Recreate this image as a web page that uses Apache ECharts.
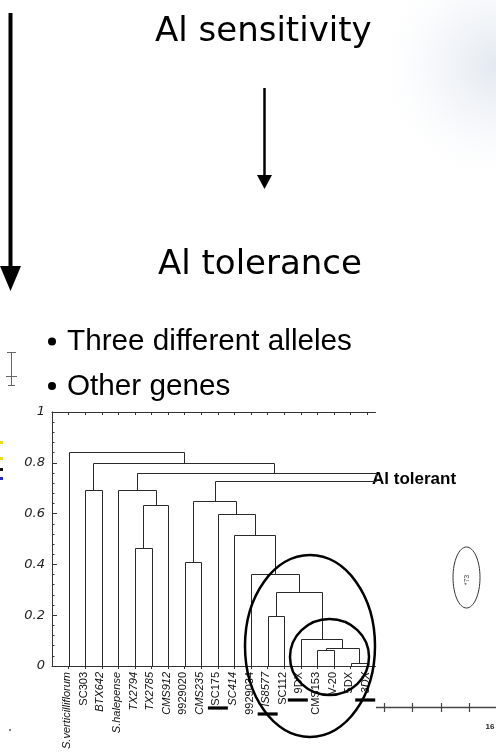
<!DOCTYPE html>
<html><head><meta charset="utf-8">
<script src="https://cdn.jsdelivr.net/npm/echarts@6/dist/echarts.min.js"></script>
<style>html,body{margin:0;padding:0;background:#fff}#c{width:496px;height:753px}</style>
</head><body><div id="c"></div>
<script>
// ---- data ----
const leafNames = ['S.verticilliflorum','SC303','BTX642','S.halepense','TX2794','TX2785','CMS912','9929020','CMS235','SC175','SC414','9929034','IS8577','SC112','9DX','CMS153','V-20','5DX','3DX'];
const italicLeaves = ['S.verticilliflorum','BTX642','S.halepense','TX2794','TX2785','CMS912','CMS235','SC414','IS8577','3DX'];
const markedLeaves = ['SC175','IS8577','9DX','3DX'];
// dendrogram U-links: x in leaf-index units, heights in linkage distance
const linkLeftX     = [1, 4, 4.5, 3, 7, 12, 15, 17, 15.5, 14, 12.5, 11, 10, 9, 7.5, 8.8, 4.125, 1.5, 0];
const linkRightX    = [2, 5, 6, 5.25, 8, 13, 16, 18, 17.5, 16.5, 15.25, 13.875, 12.44, 11.22, 10.11, 18.5, 18.5, 12.4, 6.95];
const linkHeight    = [0.693, 0.465, 0.634, 0.693, 0.41, 0.197, 0.063, 0.012, 0.071, 0.106, 0.29, 0.362, 0.516, 0.60, 0.65, 0.728, 0.76, 0.80, 0.843];
const linkLeftBase  = [0, 0, 0.465, 0, 0, 0, 0, 0, 0.063, 0, 0.197, 0, 0, 0, 0.41, 0.65, 0.693, 0.693, 0];
const linkRightBase = [0, 0, 0, 0.634, 0, 0, 0, 0, 0.012, 0.071, 0.106, 0.29, 0.362, 0.516, 0.60, 0.728, 0.728, 0.76, 0.80];
const yTicks = [0, 0.2, 0.4, 0.6, 0.8, 1];

// ---- styling ----
const LINE = '#2a2a2a';
const markStyle = {SC175:{dy:42,dx:0}, IS8577:{dy:48,dx:0}, '9DX':{dy:34,dx:-3}, '3DX':{dy:34,dx:-2}};
const leafIdx = leafNames.map((n,i)=>i);
const LABEL_FONT = 'Liberation Sans, Arial, sans-serif';

const chart = echarts.init(document.getElementById('c'), null, {renderer:'canvas'});
const crisp = v => Math.round(v) + 0.5;

chart.setOption({
  animation:false,
  backgroundColor:'#fff',
  grid:{left:52, top:412, width:323.5, height:254, containLabel:false},
  xAxis:[{
    type:'value', min:-1, max:18.5, position:'bottom',
    axisLine:{show:true, onZero:false, lineStyle:{color:'#333', width:1}},
    axisTick:{show:true, inside:false, length:3, customValues:leafIdx, lineStyle:{color:'#333'}},
    splitLine:{show:false},
    axisLabel:{
      show:true, rotate:90, margin:6, customValues:leafIdx,
      formatter: v => { const n = leafNames[Math.round(v)]; if (n===undefined) return ''; return (italicLeaves.includes(n)?'{it|':'{n|') + n + '}'; },
      rich:{
        it:{fontStyle:'italic', fontSize:11, fontFamily:LABEL_FONT, color:'#111', padding:[0,0,3,0]},
        n:{fontSize:11, fontFamily:LABEL_FONT, color:'#111', padding:[0,0,3,0]}
      }
    }
  },{
    type:'value', min:-1, max:18.5, position:'top',
    axisLine:{show:true, onZero:false, lineStyle:{color:'#333', width:1}},
    axisTick:{show:true, inside:true, length:3, customValues:leafIdx, lineStyle:{color:'#333'}},
    splitLine:{show:false}, axisLabel:{show:false}
  }],
  yAxis:{
    type:'value', min:0, max:1, interval:0.2,
    axisLine:{show:true, onZero:false, lineStyle:{color:'#333', width:1}},
    axisTick:{show:true, inside:true, length:5, lineStyle:{color:'#333'}},
    minorTick:{show:true, splitNumber:5, length:2.5, lineStyle:{color:'#333'}},
    splitLine:{show:false},
    axisLabel:{margin:7, fontSize:13, fontStyle:'italic', fontFamily:'DejaVu Sans, sans-serif', color:'#222',
      customValues: yTicks}
  },
  series:[{
    type:'custom', coordinateSystem:'cartesian2d', xAxisIndex:0, yAxisIndex:0, clip:false,
    data: linkHeight.map((h,i)=>[linkLeftX[i], linkRightX[i], h, linkLeftBase[i], linkRightBase[i]]),
    encode:{x:[0,1], y:[2,3,4]},
    renderItem:(params, api)=>{
      const xl=api.value(0), xr=api.value(1), h=api.value(2), bl=api.value(3), br=api.value(4);
      const pts = [[xl,bl],[xl,h],[xr,h],[xr,br]].map(p=>{const c=api.coord(p); return [crisp(c[0]), crisp(c[1])];});
      return {type:'polyline', shape:{points:pts}, style:{stroke:LINE, lineWidth:1, fill:null}};
    }
  },{
    type:'custom', coordinateSystem:'cartesian2d', xAxisIndex:0, yAxisIndex:0, clip:false, z:5,
    data: markedLeaves.map(n=>[leafNames.indexOf(n), 0]),
    renderItem:(params, api)=>{
      const n = markedLeaves[params.dataIndex]; const s = markStyle[n];
      const c = api.coord([api.value(0), api.value(1)]);
      const x = c[0] + s.dx, y = c[1] + s.dy;
      return {type:'line', shape:{x1:x-10, y1:y, x2:x+10, y2:y}, style:{stroke:'#000', lineWidth:3.2}};
    }
  }],
  graphic:[
    // faint slide background in the top-right corner
    {type:'rect', z:-10, shape:{x:330, y:0, width:166, height:300},
      style:{fill:new echarts.graphic.RadialGradient(1, 0.22, 0.75, [{offset:0, color:'rgba(208,218,230,0.6)'},{offset:0.5, color:'rgba(228,234,242,0.35)'},{offset:1, color:'rgba(255,255,255,0)'}])}},
    // slide titles
    {type:'text', x:155, y:32, style:{text:'Al sensitivity', font:'34px "DejaVu Sans", sans-serif', fill:'#000', verticalAlign:'middle', align:'left'}},
    {type:'text', x:158, y:265, style:{text:'Al tolerance', font:'34px "DejaVu Sans", sans-serif', fill:'#000', verticalAlign:'middle', align:'left'}},
    // arrows
    {type:'line', shape:{x1:10.5, y1:13, x2:10.5, y2:270}, style:{stroke:'#000', lineWidth:4}},
    {type:'polygon', shape:{points:[[0,266],[21,266],[10.5,291]]}, style:{fill:'#000'}},
    {type:'line', shape:{x1:264.5, y1:88, x2:264.5, y2:178}, style:{stroke:'#000', lineWidth:2.5}},
    {type:'polygon', shape:{points:[[257,175],[272,175],[264.5,189]]}, style:{fill:'#000'}},
    // bullets
    {type:'circle', shape:{cx:52, cy:341.5, r:4}, style:{fill:'#000'}},
    {type:'text', x:67, y:342, style:{text:'Three different alleles', font:'29.7px "Liberation Sans", Arial, sans-serif', fill:'#000', verticalAlign:'middle'}},
    {type:'circle', shape:{cx:52, cy:386, r:4}, style:{fill:'#000'}},
    {type:'text', x:67, y:387, style:{text:'Other genes', font:'29.7px "Liberation Sans", Arial, sans-serif', fill:'#000', verticalAlign:'middle'}},
    // label on dendrogram
    {type:'text', x:372, y:479, z:-1, style:{text:'Al tolerant', font:'bold 17px "Liberation Sans", Arial, sans-serif', fill:'#000', verticalAlign:'middle'}},
    // ellipses
    {type:'ellipse', z:10, shape:{cx:310, cy:646, rx:65, ry:91}, style:{stroke:'#000', lineWidth:2.5, fill:null}},
    {type:'ellipse', z:10, shape:{cx:329.5, cy:657, rx:39.5, ry:38}, style:{stroke:'#000', lineWidth:2.5, fill:null}},
    {type:'ellipse', z:10, shape:{cx:466.5, cy:577.5, rx:13.5, ry:30.5}, style:{stroke:'#333', lineWidth:1, fill:null}},
    {type:'text', x:467, y:580, rotation:Math.PI/2, style:{text:'*73', font:'7px "Liberation Sans", Arial, sans-serif', fill:'#444', align:'center', verticalAlign:'middle'}},
    // leftover slide fragments
    {type:'line', shape:{x1:11.5, y1:352, x2:11.5, y2:385}, style:{stroke:'#666', lineWidth:1}},
    {type:'line', shape:{x1:7, y1:352.5, x2:16, y2:352.5}, style:{stroke:'#666', lineWidth:1}},
    {type:'line', shape:{x1:6, y1:376.5, x2:17, y2:376.5}, style:{stroke:'#666', lineWidth:1}},
    {type:'line', shape:{x1:8, y1:385.5, x2:15, y2:385.5}, style:{stroke:'#666', lineWidth:1}},
    {type:'rect', shape:{x:0, y:441, width:3, height:3}, style:{fill:'#f0e000'}},
    {type:'rect', shape:{x:0, y:457, width:3, height:3}, style:{fill:'#f0e000'}},
    {type:'rect', shape:{x:0, y:468, width:3, height:3}, style:{fill:'#111'}},
    {type:'rect', shape:{x:0, y:477, width:3, height:3}, style:{fill:'#1a2ad0'}},
    {type:'circle', shape:{cx:10, cy:730, r:1}, style:{fill:'#555'}},
    {type:'line', shape:{x1:376, y1:707.5, x2:496, y2:707.5}, style:{stroke:'#444', lineWidth:1.5}},
    {type:'line', shape:{x1:384.5, y1:703, x2:384.5, y2:712}, style:{stroke:'#444', lineWidth:1.2}},
    {type:'line', shape:{x1:412.5, y1:703, x2:412.5, y2:712}, style:{stroke:'#444', lineWidth:1.2}},
    {type:'line', shape:{x1:441.5, y1:703, x2:441.5, y2:712}, style:{stroke:'#444', lineWidth:1.2}},
    {type:'line', shape:{x1:469.5, y1:703, x2:469.5, y2:712}, style:{stroke:'#444', lineWidth:1.2}},
    {type:'text', x:490, y:727, style:{text:'16', font:'bold 8px "Liberation Sans", Arial, sans-serif', fill:'#222', align:'center', verticalAlign:'middle'}}
  ]
});
</script></body></html>
